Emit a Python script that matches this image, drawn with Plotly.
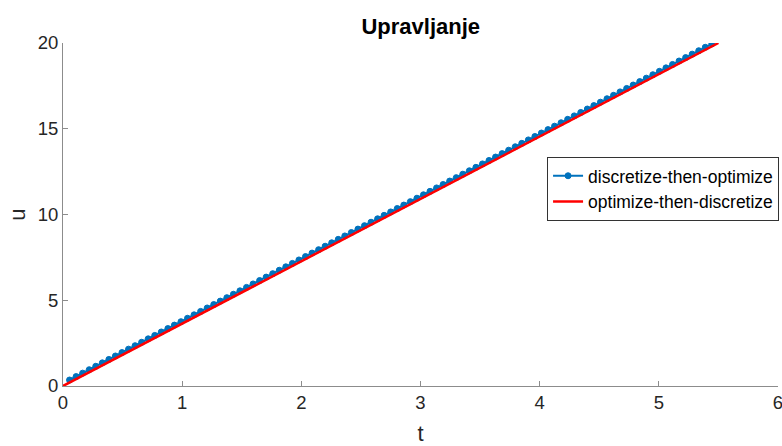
import plotly.graph_objects as go

# discretize-then-optimize (markers)
t_dto = [0.055, 0.110, 0.165, 0.220, 0.275, 0.330, 0.385, 0.440, 0.495, 0.550,
         0.605, 0.660, 0.715, 0.770, 0.825, 0.880, 0.935, 0.990, 1.045, 1.100,
         1.155, 1.210, 1.265, 1.320, 1.375, 1.430, 1.485, 1.540, 1.595, 1.650,
         1.705, 1.760, 1.815, 1.870, 1.925, 1.980, 2.035, 2.090, 2.145, 2.200,
         2.255, 2.310, 2.365, 2.420, 2.475, 2.530, 2.585, 2.640, 2.695, 2.750,
         2.805, 2.860, 2.915, 2.970, 3.025, 3.080, 3.135, 3.190, 3.245, 3.300,
         3.355, 3.410, 3.465, 3.520, 3.575, 3.630, 3.685, 3.740, 3.795, 3.850,
         3.905, 3.960, 4.015, 4.070, 4.125, 4.180, 4.235, 4.290, 4.345, 4.400,
         4.455, 4.510, 4.565, 4.620, 4.675, 4.730, 4.785, 4.840, 4.895, 4.950,
         5.005, 5.060, 5.115, 5.170, 5.225, 5.280, 5.335, 5.390, 5.445]
u_dto = [0.35, 0.55, 0.75, 0.95, 1.15, 1.35, 1.55, 1.75, 1.95, 2.15,
         2.35, 2.55, 2.75, 2.95, 3.15, 3.35, 3.55, 3.75, 3.95, 4.15,
         4.35, 4.55, 4.75, 4.95, 5.15, 5.35, 5.55, 5.75, 5.95, 6.15,
         6.35, 6.55, 6.75, 6.95, 7.15, 7.35, 7.55, 7.75, 7.95, 8.15,
         8.35, 8.55, 8.75, 8.95, 9.15, 9.35, 9.55, 9.75, 9.95, 10.15,
         10.35, 10.55, 10.75, 10.95, 11.15, 11.35, 11.55, 11.75, 11.95, 12.15,
         12.35, 12.55, 12.75, 12.95, 13.15, 13.35, 13.55, 13.75, 13.95, 14.15,
         14.35, 14.55, 14.75, 14.95, 15.15, 15.35, 15.55, 15.75, 15.95, 16.15,
         16.35, 16.55, 16.75, 16.95, 17.15, 17.35, 17.55, 17.75, 17.95, 18.15,
         18.35, 18.55, 18.75, 18.95, 19.15, 19.35, 19.55, 19.75, 19.95]

# optimize-then-discretize (line)
t_otd = [0.0, 5.5]
u_otd = [0.0, 20.0]

x_ticks = [0, 1, 2, 3, 4, 5, 6]
y_ticks = [0, 5, 10, 15, 20]

FONT = "Liberation Sans, Arial, sans-serif"

fig = go.Figure()
fig.add_trace(go.Scatter(
    x=t_dto, y=u_dto, mode="lines+markers", name="discretize-then-optimize",
    line=dict(color="#0072BD", width=2),
    marker=dict(color="#0072BD", size=6, line=dict(color="#0072BD", width=1)),
))
fig.add_trace(go.Scatter(
    x=t_otd, y=u_otd, mode="lines", name="optimize-then-discretize",
    line=dict(color="#FF0000", width=2.5),
))

axis_common = dict(
    showgrid=False, zeroline=False, showline=True, linecolor="#8c8c8c", linewidth=1,
    ticks="inside", ticklen=5, tickcolor="#8c8c8c", tickwidth=1,
    tickfont=dict(family=FONT, size=18.5, color="#262626"),
    mirror=False, automargin=False,
)

fig.update_layout(
    width=782, height=446,
    margin=dict(l=63, r=4, t=43, b=60, autoexpand=False),
    paper_bgcolor="white", plot_bgcolor="white",
    font=dict(family=FONT, color="#262626"),
    title=dict(text="<b>Upravljanje</b>", x=0.538, xanchor="center",
               y=1 - 26 / 446, yanchor="middle", yref="container",
               font=dict(family=FONT, size=22, color="#000000")),
    xaxis=dict(range=[0, 6], tickvals=x_ticks, ticktext=[str(v) for v in x_ticks],
               ticklabeloverflow="allow",
               title=dict(text="t", font=dict(family=FONT, size=22, color="#262626"), standoff=13),
               **axis_common),
    yaxis=dict(range=[0, 20], tickvals=y_ticks, ticktext=[str(v) for v in y_ticks],
               title=dict(text="u", font=dict(family=FONT, size=22, color="#262626"), standoff=6),
               **axis_common),
    legend=dict(x=0.677, y=0.668, xanchor="left", yanchor="top",
                bgcolor="white", bordercolor="#333333", borderwidth=1,
                font=dict(family=FONT, size=17.5, color="#000000"),
                itemwidth=30, tracegroupgap=0),
    showlegend=True,
)

fig.write_html("out.html",
               config={"displayModeBar": False},
               post_script="document.body.style.margin='0';document.body.style.overflow='hidden';")
